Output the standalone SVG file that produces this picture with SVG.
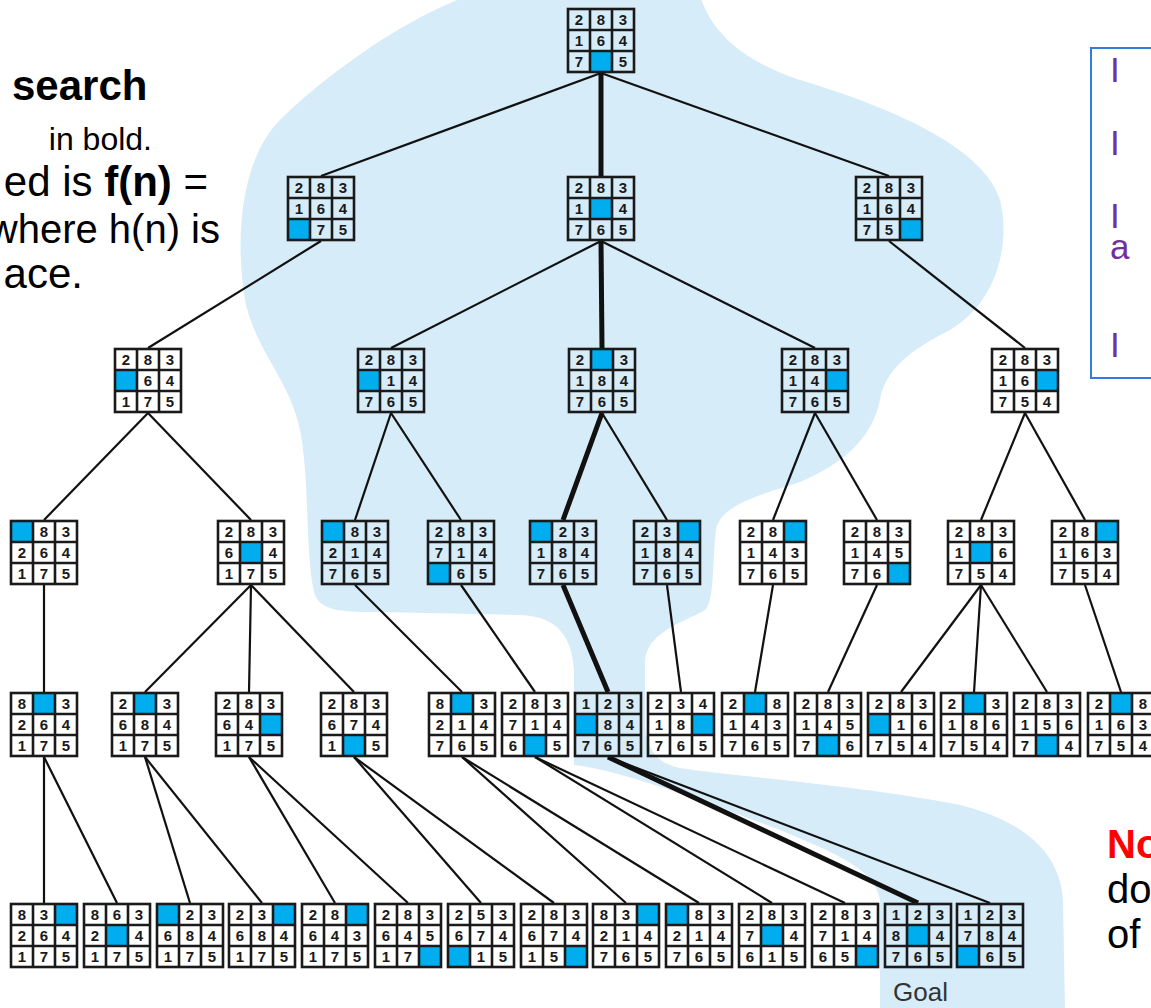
<svg xmlns="http://www.w3.org/2000/svg" xmlns:xlink="http://www.w3.org/1999/xlink" width="1151" height="1008" viewBox="0 0 1151 1008">
<style>
  .n text { font-family: "Liberation Sans", Arial, sans-serif; font-size: 15px; font-weight: bold; text-anchor: middle; fill: #1a1a1a; }
  .bl { fill: #00aeef; }
  .e line { stroke: #111; stroke-width: 2.2; }
  .e line.p { stroke-width: 5; }
  .t { font-family: "Liberation Sans", Arial, sans-serif; font-size: 40px; fill: #000; }
  .q { font-family: "Liberation Sans", Arial, sans-serif; font-size: 35px; fill: #7030a0; }
</style>
<defs>
  <!-- 3x3 puzzle frame: outer border plus cell dividers -->
  <g id="g" fill="none" stroke="#1a1a1a">
    <rect x="1" y="1" width="66" height="63" stroke-width="2.6"/>
    <path d="M23 1V64M45 1V64M1 22H67M1 43H67" stroke-width="2.6"/>
  </g>
</defs>

<rect width="1151" height="1008" fill="#fff"/>

<!-- shaded region of expanded states -->
<path id="region" fill="#d6ecf9" d="M470,-5 C400,20 320,80 280,120 C240,160 235,240 245,300 C255,350 290,380 300,430 C310,480 305,560 315,595 C322,612 345,612 380,612 L520,615 C560,616 572,640 574,670 L574,765 C620,770 700,800 780,830 C840,855 875,870 880,900 L880,1010 L1065,1010 L1063,900 C1060,850 1020,820 960,805 C860,785 720,775 680,768 C650,762 645,740 645,720 L645,660 C648,630 690,620 705,610 C715,600 712,560 716,530 C720,505 760,495 800,482 C840,465 872,440 880,400 C885,370 910,350 950,330 C1000,300 1010,240 1000,200 C985,150 900,110 800,80 C740,60 710,30 700,-5 Z"/>

<!-- side notes -->
<g id="note-left" class="t">
  <text x="12" y="100" font-size="42" font-weight="bold">search</text>
  <text x="152" y="150" font-size="32" text-anchor="end">in bold.</text>
  <text x="208" y="196" font-size="42" text-anchor="end">ed is <tspan font-weight="bold">f(n)</tspan> =</text>
  <text x="220" y="243" text-anchor="end">where h(n) is</text>
  <text x="83" y="288" font-size="42" text-anchor="end">ace.</text>
</g>
<g id="note-right">
  <rect x="1091" y="48" width="80" height="330" fill="#fff" stroke="#2f7ed8" stroke-width="2"/>
  <text class="q" x="1110" y="82">I</text>
  <text class="q" x="1110" y="155">I</text>
  <text class="q" x="1110" y="228">I</text>
  <text class="q" x="1110" y="259">a</text>
  <text class="q" x="1110" y="357">I</text>
</g>
<g id="note-bottom" class="t" font-size="37">
  <text x="1107" y="858" font-weight="bold" fill="#ff0000">No</text>
  <text x="1107" y="903">do</text>
  <text x="1107" y="948">of</text>
</g>
<text id="goal-label" x="893" y="1001" font-family="Liberation Sans, Arial, sans-serif" font-size="26" fill="#333">Goal</text>

<!-- connectors -->
<g id="edges" class="e">
  <line x1="601" y1="73" x2="321" y2="176"/>
  <line class="p" x1="601" y1="73" x2="601" y2="176"/>
  <line x1="601" y1="73" x2="889" y2="176"/>
  <line x1="321" y1="241" x2="148" y2="348"/>
  <line x1="601" y1="241" x2="391" y2="348"/>
  <line class="p" x1="601" y1="241" x2="602" y2="348"/>
  <line x1="601" y1="241" x2="815" y2="348"/>
  <line x1="889" y1="241" x2="1025" y2="348"/>
  <line x1="148" y1="413" x2="44" y2="520"/>
  <line x1="148" y1="413" x2="251" y2="520"/>
  <line x1="391" y1="413" x2="355" y2="520"/>
  <line x1="391" y1="413" x2="461" y2="520"/>
  <line class="p" x1="602" y1="413" x2="563" y2="520"/>
  <line x1="602" y1="413" x2="667" y2="520"/>
  <line x1="815" y1="413" x2="773" y2="520"/>
  <line x1="815" y1="413" x2="877" y2="520"/>
  <line x1="1025" y1="413" x2="981" y2="520"/>
  <line x1="1025" y1="413" x2="1085" y2="520"/>
  <line x1="44" y1="585" x2="44" y2="692"/>
  <line x1="251" y1="585" x2="145" y2="692"/>
  <line x1="251" y1="585" x2="249" y2="692"/>
  <line x1="251" y1="585" x2="354" y2="692"/>
  <line x1="355" y1="585" x2="462" y2="692"/>
  <line x1="461" y1="585" x2="535" y2="692"/>
  <line class="p" x1="563" y1="585" x2="608" y2="692"/>
  <line x1="667" y1="585" x2="681" y2="692"/>
  <line x1="773" y1="585" x2="755" y2="692"/>
  <line x1="877" y1="585" x2="828" y2="692"/>
  <line x1="981" y1="585" x2="901" y2="692"/>
  <line x1="981" y1="585" x2="974" y2="692"/>
  <line x1="981" y1="585" x2="1047" y2="692"/>
  <line x1="1085" y1="585" x2="1121" y2="692"/>
  <line x1="44" y1="757" x2="44" y2="903"/>
  <line x1="44" y1="757" x2="117" y2="903"/>
  <line x1="145" y1="757" x2="190" y2="903"/>
  <line x1="145" y1="757" x2="262" y2="903"/>
  <line x1="249" y1="757" x2="335" y2="903"/>
  <line x1="249" y1="757" x2="408" y2="903"/>
  <line x1="354" y1="757" x2="481" y2="903"/>
  <line x1="354" y1="757" x2="554" y2="903"/>
  <line x1="462" y1="757" x2="626" y2="903"/>
  <line x1="462" y1="757" x2="699" y2="903"/>
  <line x1="535" y1="757" x2="772" y2="903"/>
  <line x1="535" y1="757" x2="845" y2="903"/>
  <line class="p" x1="608" y1="757" x2="918" y2="903"/>
  <line x1="608" y1="757" x2="990" y2="903"/>
</g>

<!-- puzzle states -->
<g id="A" class="n" transform="translate(567,8)"><rect class="bl" x="23" y="43" width="22" height="21"/><use href="#g"/><text x="12 34 56" y="17">283</text><text x="12 34 56" y="38">164</text><text x="12 56" y="59">75</text></g>

<g id="B1" class="n" transform="translate(287,176)"><rect class="bl" x="1" y="43" width="22" height="21"/><use href="#g"/><text x="12 34 56" y="17">283</text><text x="12 34 56" y="38">164</text><text x="34 56" y="59">75</text></g>
<g id="B2" class="n" transform="translate(567,176)"><rect class="bl" x="23" y="22" width="22" height="21"/><use href="#g"/><text x="12 34 56" y="17">283</text><text x="12 56" y="38">14</text><text x="12 34 56" y="59">765</text></g>
<g id="B3" class="n" transform="translate(855,176)"><rect class="bl" x="45" y="43" width="22" height="21"/><use href="#g"/><text x="12 34 56" y="17">283</text><text x="12 34 56" y="38">164</text><text x="12 34" y="59">75</text></g>

<g id="C1" class="n" transform="translate(114,348)"><rect class="bl" x="1" y="22" width="22" height="21"/><use href="#g"/><text x="12 34 56" y="17">283</text><text x="34 56" y="38">64</text><text x="12 34 56" y="59">175</text></g>
<g id="C2" class="n" transform="translate(357,348)"><rect class="bl" x="1" y="22" width="22" height="21"/><use href="#g"/><text x="12 34 56" y="17">283</text><text x="34 56" y="38">14</text><text x="12 34 56" y="59">765</text></g>
<g id="C3" class="n" transform="translate(568,348)"><rect class="bl" x="23" y="1" width="22" height="21"/><use href="#g"/><text x="12 56" y="17">23</text><text x="12 34 56" y="38">184</text><text x="12 34 56" y="59">765</text></g>
<g id="C4" class="n" transform="translate(781,348)"><rect class="bl" x="45" y="22" width="22" height="21"/><use href="#g"/><text x="12 34 56" y="17">283</text><text x="12 34" y="38">14</text><text x="12 34 56" y="59">765</text></g>
<g id="C5" class="n" transform="translate(991,348)"><rect class="bl" x="45" y="22" width="22" height="21"/><use href="#g"/><text x="12 34 56" y="17">283</text><text x="12 34" y="38">16</text><text x="12 34 56" y="59">754</text></g>

<g id="D1" class="n" transform="translate(10,520)"><rect class="bl" x="1" y="1" width="22" height="21"/><use href="#g"/><text x="34 56" y="17">83</text><text x="12 34 56" y="38">264</text><text x="12 34 56" y="59">175</text></g>
<g id="D2" class="n" transform="translate(217,520)"><rect class="bl" x="23" y="22" width="22" height="21"/><use href="#g"/><text x="12 34 56" y="17">283</text><text x="12 56" y="38">64</text><text x="12 34 56" y="59">175</text></g>
<g id="D3" class="n" transform="translate(321,520)"><rect class="bl" x="1" y="1" width="22" height="21"/><use href="#g"/><text x="34 56" y="17">83</text><text x="12 34 56" y="38">214</text><text x="12 34 56" y="59">765</text></g>
<g id="D4" class="n" transform="translate(427,520)"><rect class="bl" x="1" y="43" width="22" height="21"/><use href="#g"/><text x="12 34 56" y="17">283</text><text x="12 34 56" y="38">714</text><text x="34 56" y="59">65</text></g>
<g id="D5" class="n" transform="translate(529,520)"><rect class="bl" x="1" y="1" width="22" height="21"/><use href="#g"/><text x="34 56" y="17">23</text><text x="12 34 56" y="38">184</text><text x="12 34 56" y="59">765</text></g>
<g id="D6" class="n" transform="translate(633,520)"><rect class="bl" x="45" y="1" width="22" height="21"/><use href="#g"/><text x="12 34" y="17">23</text><text x="12 34 56" y="38">184</text><text x="12 34 56" y="59">765</text></g>
<g id="D7" class="n" transform="translate(739,520)"><rect class="bl" x="45" y="1" width="22" height="21"/><use href="#g"/><text x="12 34" y="17">28</text><text x="12 34 56" y="38">143</text><text x="12 34 56" y="59">765</text></g>
<g id="D8" class="n" transform="translate(843,520)"><rect class="bl" x="45" y="43" width="22" height="21"/><use href="#g"/><text x="12 34 56" y="17">283</text><text x="12 34 56" y="38">145</text><text x="12 34" y="59">76</text></g>
<g id="D9" class="n" transform="translate(947,520)"><rect class="bl" x="23" y="22" width="22" height="21"/><use href="#g"/><text x="12 34 56" y="17">283</text><text x="12 56" y="38">16</text><text x="12 34 56" y="59">754</text></g>
<g id="D10" class="n" transform="translate(1051,520)"><rect class="bl" x="45" y="1" width="22" height="21"/><use href="#g"/><text x="12 34" y="17">28</text><text x="12 34 56" y="38">163</text><text x="12 34 56" y="59">754</text></g>

<g id="E1" class="n" transform="translate(10,692)"><rect class="bl" x="23" y="1" width="22" height="21"/><use href="#g"/><text x="12 56" y="17">83</text><text x="12 34 56" y="38">264</text><text x="12 34 56" y="59">175</text></g>
<g id="E2" class="n" transform="translate(111,692)"><rect class="bl" x="23" y="1" width="22" height="21"/><use href="#g"/><text x="12 56" y="17">23</text><text x="12 34 56" y="38">684</text><text x="12 34 56" y="59">175</text></g>
<g id="E3" class="n" transform="translate(215,692)"><rect class="bl" x="45" y="22" width="22" height="21"/><use href="#g"/><text x="12 34 56" y="17">283</text><text x="12 34" y="38">64</text><text x="12 34 56" y="59">175</text></g>
<g id="E4" class="n" transform="translate(320,692)"><rect class="bl" x="23" y="43" width="22" height="21"/><use href="#g"/><text x="12 34 56" y="17">283</text><text x="12 34 56" y="38">674</text><text x="12 56" y="59">15</text></g>
<g id="E5" class="n" transform="translate(428,692)"><rect class="bl" x="23" y="1" width="22" height="21"/><use href="#g"/><text x="12 56" y="17">83</text><text x="12 34 56" y="38">214</text><text x="12 34 56" y="59">765</text></g>
<g id="E6" class="n" transform="translate(501,692)"><rect class="bl" x="23" y="43" width="22" height="21"/><use href="#g"/><text x="12 34 56" y="17">283</text><text x="12 34 56" y="38">714</text><text x="12 56" y="59">65</text></g>
<g id="E7" class="n" transform="translate(574,692)"><rect class="bl" x="1" y="22" width="22" height="21"/><use href="#g"/><text x="12 34 56" y="17">123</text><text x="34 56" y="38">84</text><text x="12 34 56" y="59">765</text></g>
<g id="E8" class="n" transform="translate(647,692)"><rect class="bl" x="45" y="22" width="22" height="21"/><use href="#g"/><text x="12 34 56" y="17">234</text><text x="12 34" y="38">18</text><text x="12 34 56" y="59">765</text></g>
<g id="E9" class="n" transform="translate(721,692)"><rect class="bl" x="23" y="1" width="22" height="21"/><use href="#g"/><text x="12 56" y="17">28</text><text x="12 34 56" y="38">143</text><text x="12 34 56" y="59">765</text></g>
<g id="E10" class="n" transform="translate(794,692)"><rect class="bl" x="23" y="43" width="22" height="21"/><use href="#g"/><text x="12 34 56" y="17">283</text><text x="12 34 56" y="38">145</text><text x="12 56" y="59">76</text></g>
<g id="E11" class="n" transform="translate(867,692)"><rect class="bl" x="1" y="22" width="22" height="21"/><use href="#g"/><text x="12 34 56" y="17">283</text><text x="34 56" y="38">16</text><text x="12 34 56" y="59">754</text></g>
<g id="E12" class="n" transform="translate(940,692)"><rect class="bl" x="23" y="1" width="22" height="21"/><use href="#g"/><text x="12 56" y="17">23</text><text x="12 34 56" y="38">186</text><text x="12 34 56" y="59">754</text></g>
<g id="E13" class="n" transform="translate(1013,692)"><rect class="bl" x="23" y="43" width="22" height="21"/><use href="#g"/><text x="12 34 56" y="17">283</text><text x="12 34 56" y="38">156</text><text x="12 56" y="59">74</text></g>
<g id="E14" class="n" transform="translate(1087,692)"><rect class="bl" x="23" y="1" width="22" height="21"/><use href="#g"/><text x="12 56" y="17">28</text><text x="12 34 56" y="38">163</text><text x="12 34 56" y="59">754</text></g>

<g id="F1" class="n" transform="translate(10,903)"><rect class="bl" x="45" y="1" width="22" height="21"/><use href="#g"/><text x="12 34" y="17">83</text><text x="12 34 56" y="38">264</text><text x="12 34 56" y="59">175</text></g>
<g id="F2" class="n" transform="translate(83,903)"><rect class="bl" x="23" y="22" width="22" height="21"/><use href="#g"/><text x="12 34 56" y="17">863</text><text x="12 56" y="38">24</text><text x="12 34 56" y="59">175</text></g>
<g id="F3" class="n" transform="translate(156,903)"><rect class="bl" x="1" y="1" width="22" height="21"/><use href="#g"/><text x="34 56" y="17">23</text><text x="12 34 56" y="38">684</text><text x="12 34 56" y="59">175</text></g>
<g id="F4" class="n" transform="translate(228,903)"><rect class="bl" x="45" y="1" width="22" height="21"/><use href="#g"/><text x="12 34" y="17">23</text><text x="12 34 56" y="38">684</text><text x="12 34 56" y="59">175</text></g>
<g id="F5" class="n" transform="translate(301,903)"><rect class="bl" x="45" y="1" width="22" height="21"/><use href="#g"/><text x="12 34" y="17">28</text><text x="12 34 56" y="38">643</text><text x="12 34 56" y="59">175</text></g>
<g id="F6" class="n" transform="translate(374,903)"><rect class="bl" x="45" y="43" width="22" height="21"/><use href="#g"/><text x="12 34 56" y="17">283</text><text x="12 34 56" y="38">645</text><text x="12 34" y="59">17</text></g>
<g id="F7" class="n" transform="translate(447,903)"><rect class="bl" x="1" y="43" width="22" height="21"/><use href="#g"/><text x="12 34 56" y="17">253</text><text x="12 34 56" y="38">674</text><text x="34 56" y="59">15</text></g>
<g id="F8" class="n" transform="translate(520,903)"><rect class="bl" x="45" y="43" width="22" height="21"/><use href="#g"/><text x="12 34 56" y="17">283</text><text x="12 34 56" y="38">674</text><text x="12 34" y="59">15</text></g>
<g id="F9" class="n" transform="translate(592,903)"><rect class="bl" x="45" y="1" width="22" height="21"/><use href="#g"/><text x="12 34" y="17">83</text><text x="12 34 56" y="38">214</text><text x="12 34 56" y="59">765</text></g>
<g id="F10" class="n" transform="translate(665,903)"><rect class="bl" x="1" y="1" width="22" height="21"/><use href="#g"/><text x="34 56" y="17">83</text><text x="12 34 56" y="38">214</text><text x="12 34 56" y="59">765</text></g>
<g id="F11" class="n" transform="translate(738,903)"><rect class="bl" x="23" y="22" width="22" height="21"/><use href="#g"/><text x="12 34 56" y="17">283</text><text x="12 56" y="38">74</text><text x="12 34 56" y="59">615</text></g>
<g id="F12" class="n" transform="translate(811,903)"><rect class="bl" x="45" y="43" width="22" height="21"/><use href="#g"/><text x="12 34 56" y="17">283</text><text x="12 34 56" y="38">714</text><text x="12 34" y="59">65</text></g>
<g id="F13" class="n" transform="translate(884,903)"><rect class="bl" x="23" y="22" width="22" height="21"/><use href="#g"/><text x="12 34 56" y="17">123</text><text x="12 56" y="38">84</text><text x="12 34 56" y="59">765</text></g>
<g id="F14" class="n" transform="translate(956,903)"><rect class="bl" x="1" y="43" width="22" height="21"/><use href="#g"/><text x="12 34 56" y="17">123</text><text x="12 34 56" y="38">784</text><text x="34 56" y="59">65</text></g>
</svg>
